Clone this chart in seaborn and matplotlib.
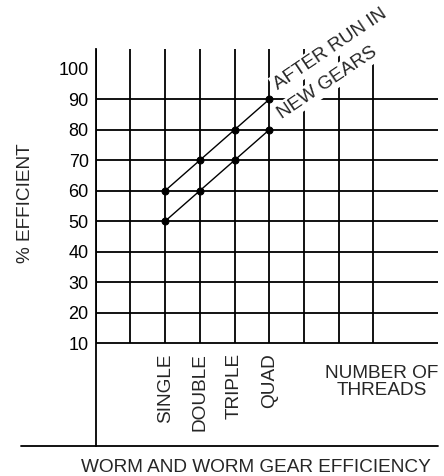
import seaborn as sns
import matplotlib.pyplot as plt
import pandas as pd

# data
threads = ['SINGLE', 'DOUBLE', 'TRIPLE', 'QUAD']
thread_pos = [1, 2, 3, 4]
after_run_in = [60, 70, 80, 90]
new_gears = [50, 60, 70, 80]
y_ticks = [10, 20, 30, 40, 50, 60, 70, 80, 90, 100]
grid_rows = [10, 20, 30, 40, 50, 60, 70, 80, 90]
grid_cols = [-1, 0, 1, 2, 3, 4, 5, 6, 7]

df = pd.DataFrame({
    'threads': thread_pos * 2,
    'efficiency': after_run_in + new_gears,
    'series': ['AFTER RUN IN'] * 4 + ['NEW GEARS'] * 4,
})

sns.set_style('white')
plt.rcParams['font.family'] = ['Liberation Sans', 'DejaVu Sans']

x0, x1 = -1, 8.86
y0, y1 = -23.8, 106.5
fs = 13.7

fig = plt.figure(figsize=(4.44, 4.76), dpi=100)
ax = fig.add_axes([0.2155, 0.063, 0.771, 0.834])
ax.set_xlim(x0, x1)
ax.set_ylim(y0, y1)

# grid of the chart
ax.hlines(grid_rows, x0, x1, color='black', lw=1.3, zorder=1)
ax.vlines(grid_cols, 10, y1, color='black', lw=1.3, zorder=1)

# the two efficiency lines
sns.lineplot(data=df, x='threads', y='efficiency', hue='series',
             palette=['black', 'black'], marker='o', markersize=5,
             markeredgecolor='black', lw=1.0, legend=False, ax=ax, zorder=3)

# axes frame
for s in ['top', 'right', 'bottom']:
    ax.spines[s].set_visible(False)
ax.spines['left'].set_color('black')
ax.spines['left'].set_linewidth(1.3)
ax.plot([-3.15, x1], [y0, y0], color='black', lw=1.3, clip_on=False)

ax.set_xticks([])
ax.set_yticks(y_ticks)
ax.tick_params(axis='y', length=0, pad=5, labelsize=13, colors='black')
ax.set_xlabel('')
ax.set_ylabel('')

for x, lab in zip(thread_pos, threads):
    ax.text(x, 6.7, lab, rotation=90, ha='center', va='top', fontsize=fs)

ax.text(7.24, -2.8, 'NUMBER OF\nTHREADS', ha='center', va='center',
        multialignment='center', linespacing=1.0, fontsize=fs)

box = dict(fc='white', ec='none', pad=1.5)
ax.text(4.25, 93.1, 'AFTER RUN IN', rotation=34, rotation_mode='anchor',
        ha='left', va='baseline', fontsize=fs, bbox=box, zorder=4)
ax.text(4.36, 83.6, 'NEW GEARS', rotation=34, rotation_mode='anchor',
        ha='left', va='baseline', fontsize=fs, bbox=box, zorder=4)

fig.text(25 / 444, 1 - 203 / 476, '% EFFICIENT', rotation=90,
         ha='center', va='center', fontsize=fs)
fig.text(256 / 444, 1 - 467 / 476, 'WORM AND WORM GEAR EFFICIENCY',
         ha='center', va='center', fontsize=fs)

fig.savefig('out.png', dpi=100)
